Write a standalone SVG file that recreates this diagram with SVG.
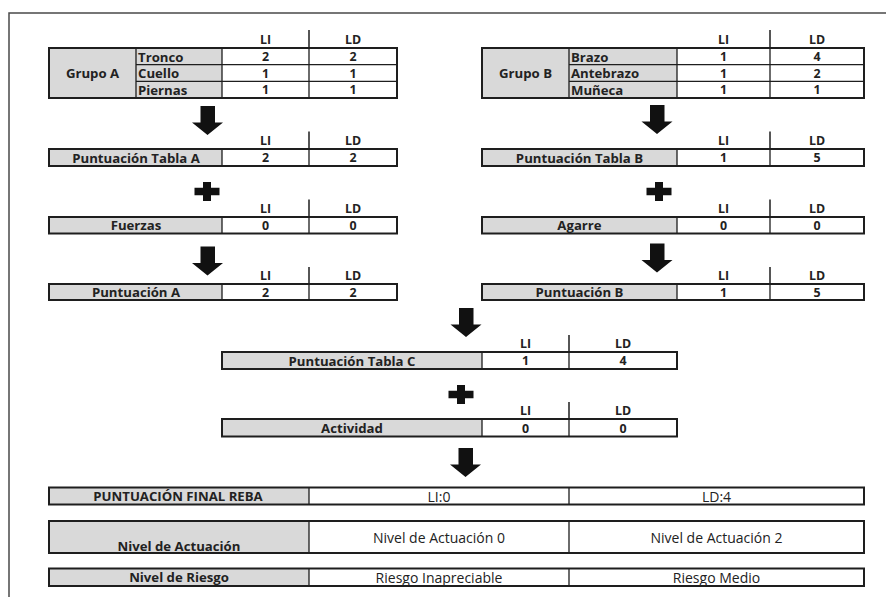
<svg xmlns="http://www.w3.org/2000/svg" width="886" height="597" viewBox="0 0 886 597">
  <defs>
    <style>
      .frame { fill: none; stroke: #4a4a4a; stroke-width: 1.5; }
      .lbl { fill: #d9d9d9; }
      .val { fill: #ffffff; }
      .box { fill: none; stroke: #1e1e1e; stroke-width: 2; }
      .grid { stroke: #1e1e1e; stroke-width: 1.3; fill: none; }
      .hdiv { stroke: #1e1e1e; stroke-width: 1.5; }
      text { font-family: "Open Sans", "Liberation Sans", sans-serif; font-size: 13.2px; fill: #222222; dominant-baseline: central; }
      .b { font-weight: bold; }
      .c { text-anchor: middle; }
      .h, .v { font-size: 12.4px; }
      .n { font-weight: normal; font-size: 14px; }
      .sym { fill: #111111; }
    </style>
    <path id="arrow" d="M8.5,0 H23 V16.5 H31 L15.5,29 L0,16.5 H8.5 Z"/>
    <path id="plus" d="M-4,-9.5 H4 V-3.8 H12.5 V3.8 H4 V9.5 H-4 V3.8 H-12.5 V-3.8 H-4 Z"/>
  </defs>

  <rect width="886" height="597" fill="#ffffff"/>
  <!-- page frame -->
  <path class="frame" d="M9,597 V13 H886"/>

  <!-- Grupo A -->
  <g id="grupo-a">
    <rect class="lbl" x="49" y="48" width="173" height="50"/>
    <rect class="val" x="222" y="48" width="175" height="50"/>
    <path class="grid" d="M136,48 V98 M222,48 V98 M309,48 V98 M136,64.7 H397 M136,81.3 H397"/>
    <rect class="box" x="49" y="48" width="348" height="50"/>
    <line class="hdiv" x1="309" y1="30" x2="309" y2="48"/>
    <text class="b c h" x="265.5" y="39">LI</text>
    <text class="b c h" x="353" y="39">LD</text>
    <text class="b c" x="92.5" y="73">Grupo A</text>
    <text class="b" x="138" y="56.5">Tronco</text>
    <text class="b" x="138" y="73">Cuello</text>
    <text class="b" x="138" y="89.5">Piernas</text>
    <text class="b c v" x="265.5" y="56.5">2</text>
    <text class="b c v" x="353" y="56.5">2</text>
    <text class="b c v" x="265.5" y="73">1</text>
    <text class="b c v" x="353" y="73">1</text>
    <text class="b c v" x="265.5" y="89.5">1</text>
    <text class="b c v" x="353" y="89.5">1</text>
  </g>

  <!-- Grupo B -->
  <g id="grupo-b">
    <rect class="lbl" x="482" y="48" width="195" height="50"/>
    <rect class="val" x="677" y="48" width="187" height="50"/>
    <path class="grid" d="M569,48 V98 M677,48 V98 M770,48 V98 M569,64.7 H864 M569,81.3 H864"/>
    <rect class="box" x="482" y="48" width="382" height="50"/>
    <line class="hdiv" x1="770" y1="30" x2="770" y2="48"/>
    <text class="b c h" x="723.5" y="39">LI</text>
    <text class="b c h" x="817" y="39">LD</text>
    <text class="b c" x="525.5" y="73">Grupo B</text>
    <text class="b" x="571" y="56.5">Brazo</text>
    <text class="b" x="571" y="73">Antebrazo</text>
    <text class="b" x="571" y="89.5">Muñeca</text>
    <text class="b c v" x="723.5" y="56.5">1</text>
    <text class="b c v" x="817" y="56.5">4</text>
    <text class="b c v" x="723.5" y="73">1</text>
    <text class="b c v" x="817" y="73">2</text>
    <text class="b c v" x="723.5" y="89.5">1</text>
    <text class="b c v" x="817" y="89.5">1</text>
  </g>

  <!-- Puntuación Tabla A -->
  <g id="tabla-a">
    <rect class="lbl" x="49" y="149" width="173" height="17"/>
    <rect class="val" x="222" y="149" width="175" height="17"/>
    <path class="grid" d="M222,149 V166 M309,149 V166"/>
    <rect class="box" x="49" y="149" width="348" height="17"/>
    <line class="hdiv" x1="309" y1="131.5" x2="309" y2="149"/>
    <text class="b c h" x="265.5" y="140.5">LI</text>
    <text class="b c h" x="353" y="140.5">LD</text>
    <text class="b c" x="136" y="157.5">Puntuación Tabla A</text>
    <text class="b c v" x="265.5" y="157.5">2</text>
    <text class="b c v" x="353" y="157.5">2</text>
  </g>

  <!-- Puntuación Tabla B -->
  <g id="tabla-b">
    <rect class="lbl" x="482" y="149" width="195" height="17"/>
    <rect class="val" x="677" y="149" width="187" height="17"/>
    <path class="grid" d="M677,149 V166 M770,149 V166"/>
    <rect class="box" x="482" y="149" width="382" height="17"/>
    <line class="hdiv" x1="770" y1="131.5" x2="770" y2="149"/>
    <text class="b c h" x="723.5" y="140.5">LI</text>
    <text class="b c h" x="817" y="140.5">LD</text>
    <text class="b c" x="579.5" y="157.5">Puntuación Tabla B</text>
    <text class="b c v" x="723.5" y="157.5">1</text>
    <text class="b c v" x="817" y="157.5">5</text>
  </g>

  <!-- Fuerzas -->
  <g id="fuerzas">
    <rect class="lbl" x="49" y="217" width="173" height="16.5"/>
    <rect class="val" x="222" y="217" width="175" height="16.5"/>
    <path class="grid" d="M222,217 V233.5 M309,217 V233.5"/>
    <rect class="box" x="49" y="217" width="348" height="16.5"/>
    <line class="hdiv" x1="309" y1="199.5" x2="309" y2="217"/>
    <text class="b c h" x="265.5" y="208">LI</text>
    <text class="b c h" x="353" y="208">LD</text>
    <text class="b c" x="136" y="225.2">Fuerzas</text>
    <text class="b c v" x="265.5" y="225.2">0</text>
    <text class="b c v" x="353" y="225.2">0</text>
  </g>

  <!-- Agarre -->
  <g id="agarre">
    <rect class="lbl" x="482" y="217" width="195" height="16.5"/>
    <rect class="val" x="677" y="217" width="187" height="16.5"/>
    <path class="grid" d="M677,217 V233.5 M770,217 V233.5"/>
    <rect class="box" x="482" y="217" width="382" height="16.5"/>
    <line class="hdiv" x1="770" y1="199.5" x2="770" y2="217"/>
    <text class="b c h" x="723.5" y="208">LI</text>
    <text class="b c h" x="817" y="208">LD</text>
    <text class="b c" x="579.5" y="225.2">Agarre</text>
    <text class="b c v" x="723.5" y="225.2">0</text>
    <text class="b c v" x="817" y="225.2">0</text>
  </g>

  <!-- Puntuación A -->
  <g id="puntuacion-a">
    <rect class="lbl" x="49" y="284" width="173" height="16"/>
    <rect class="val" x="222" y="284" width="175" height="16"/>
    <path class="grid" d="M222,284 V300 M309,284 V300"/>
    <rect class="box" x="49" y="284" width="348" height="16"/>
    <line class="hdiv" x1="309" y1="267" x2="309" y2="284"/>
    <text class="b c h" x="265.5" y="275.5">LI</text>
    <text class="b c h" x="353" y="275.5">LD</text>
    <text class="b c" x="136" y="292">Puntuación A</text>
    <text class="b c v" x="265.5" y="292">2</text>
    <text class="b c v" x="353" y="292">2</text>
  </g>

  <!-- Puntuación B -->
  <g id="puntuacion-b">
    <rect class="lbl" x="482" y="284" width="195" height="16"/>
    <rect class="val" x="677" y="284" width="187" height="16"/>
    <path class="grid" d="M677,284 V300 M770,284 V300"/>
    <rect class="box" x="482" y="284" width="382" height="16"/>
    <line class="hdiv" x1="770" y1="267" x2="770" y2="284"/>
    <text class="b c h" x="723.5" y="275.5">LI</text>
    <text class="b c h" x="817" y="275.5">LD</text>
    <text class="b c" x="579.5" y="292">Puntuación B</text>
    <text class="b c v" x="723.5" y="292">1</text>
    <text class="b c v" x="817" y="292">5</text>
  </g>

  <!-- Puntuación Tabla C -->
  <g id="tabla-c">
    <rect class="lbl" x="222" y="352" width="260" height="17"/>
    <rect class="val" x="482" y="352" width="195" height="17"/>
    <path class="grid" d="M482,352 V369 M569,352 V369"/>
    <rect class="box" x="222" y="352" width="455" height="17"/>
    <line class="hdiv" x1="569" y1="335" x2="569" y2="352"/>
    <text class="b c h" x="525.5" y="343">LI</text>
    <text class="b c h" x="623" y="343">LD</text>
    <text class="b c" x="352" y="360.5">Puntuación Tabla C</text>
    <text class="b c v" x="525.5" y="360.5">1</text>
    <text class="b c v" x="623" y="360.5">4</text>
  </g>

  <!-- Actividad -->
  <g id="actividad">
    <rect class="lbl" x="222" y="419" width="260" height="17.5"/>
    <rect class="val" x="482" y="419" width="195" height="17.5"/>
    <path class="grid" d="M482,419 V436.5 M569,419 V436.5"/>
    <rect class="box" x="222" y="419" width="455" height="17.5"/>
    <line class="hdiv" x1="569" y1="402" x2="569" y2="419"/>
    <text class="b c h" x="525.5" y="410">LI</text>
    <text class="b c h" x="623" y="410">LD</text>
    <text class="b c" x="352" y="428">Actividad</text>
    <text class="b c v" x="525.5" y="428">0</text>
    <text class="b c v" x="623" y="428">0</text>
  </g>

  <!-- Puntuación final REBA -->
  <g id="puntuacion-final">
    <rect class="lbl" x="49" y="487.5" width="260" height="17"/>
    <rect class="val" x="309" y="487.5" width="555" height="17"/>
    <path class="grid" d="M309,487.5 V504.5 M569,487.5 V504.5"/>
    <rect class="box" x="49" y="487.5" width="815" height="17"/>
    <text class="b c" x="178" y="496">PUNTUACIÓN FINAL REBA</text>
    <text class="n c" x="439" y="496">LI:0</text>
    <text class="n c" x="716.5" y="496">LD:4</text>
  </g>

  <!-- Nivel de Actuación -->
  <g id="nivel-actuacion">
    <rect class="lbl" x="49" y="521" width="260" height="32"/>
    <rect class="val" x="309" y="521" width="555" height="32"/>
    <path class="grid" d="M309,521 V554 M569,521 V554"/>
    <rect class="box" x="49" y="521" width="815" height="32"/>
    <text class="b c" x="179" y="545.5">Nivel de Actuación</text>
    <text class="n c" x="439" y="537">Nivel de Actuación 0</text>
    <text class="n c" x="716.5" y="537">Nivel de Actuación 2</text>
  </g>

  <!-- Nivel de Riesgo -->
  <g id="nivel-riesgo">
    <rect class="lbl" x="49" y="568.5" width="260" height="17.5"/>
    <rect class="val" x="309" y="568.5" width="555" height="17.5"/>
    <path class="grid" d="M309,568.5 V586 M569,568.5 V586"/>
    <rect class="box" x="49" y="568.5" width="815" height="17.5"/>
    <text class="b c" x="179" y="577.2">Nivel de Riesgo</text>
    <text class="n c" x="439" y="577.2">Riesgo Inapreciable</text>
    <text class="n c" x="716.5" y="577.2">Riesgo Medio</text>
  </g>

  <!-- flow arrows and plus signs -->
  <g id="connectors" class="sym">
    <use href="#arrow" x="192" y="106"/>
    <use href="#plus" x="207" y="191.5"/>
    <use href="#arrow" x="192" y="246.5"/>
    <use href="#arrow" x="641.5" y="105"/>
    <use href="#plus" x="659" y="191.5"/>
    <use href="#arrow" x="641.5" y="243.5"/>
    <use href="#arrow" x="450.5" y="308"/>
    <use href="#plus" x="461" y="394.5"/>
    <use href="#arrow" x="450" y="448"/>
  </g>
</svg>
